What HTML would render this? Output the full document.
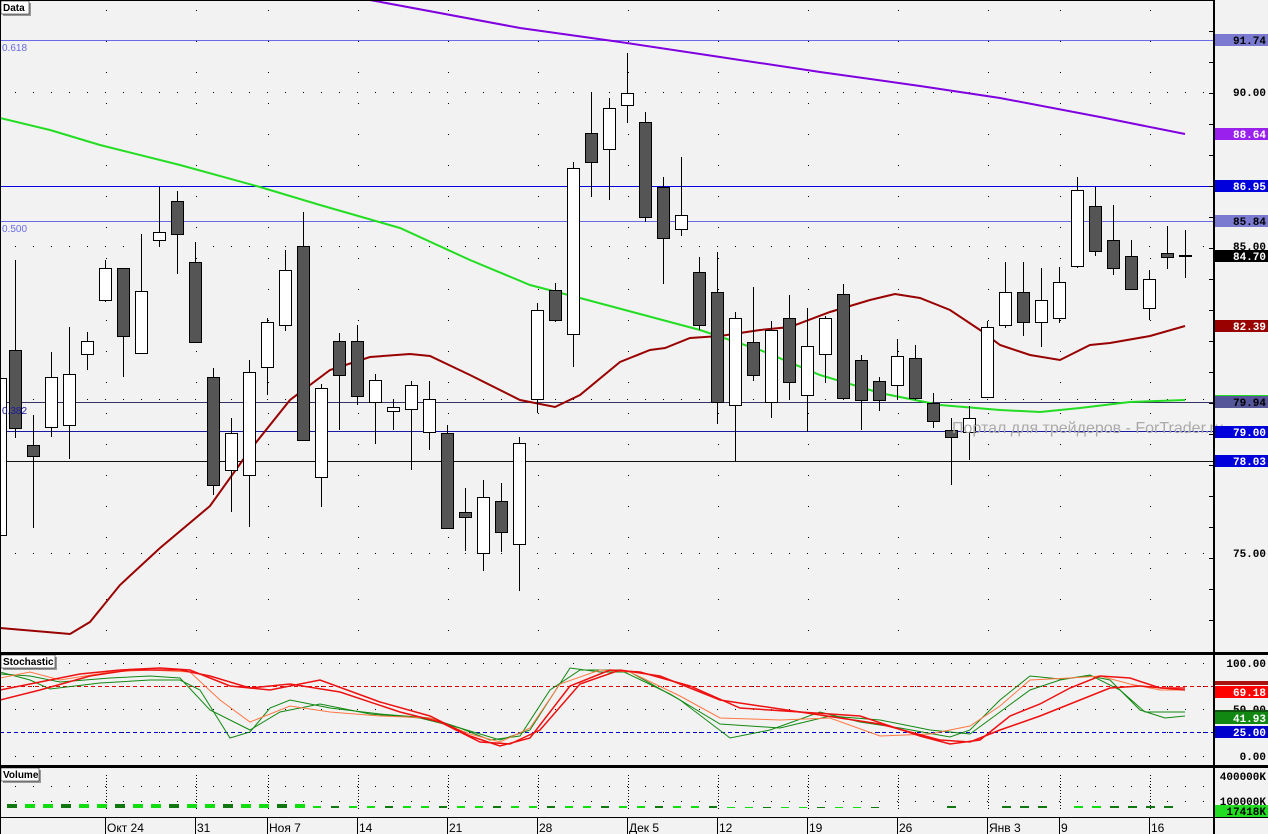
<!DOCTYPE html>
<html><head><meta charset="utf-8"><style>
html,body{margin:0;padding:0;background:#f2f2f2;width:1268px;height:834px;overflow:hidden}
svg{display:block;font-family:"Liberation Sans",sans-serif}
.lb{font-family:"Liberation Mono",monospace;font-weight:bold;font-size:11px}
</style></head><body>
<svg id="s" width="1268" height="834" xmlns="http://www.w3.org/2000/svg"></svg>
<script>
const S=document.getElementById('s');let h='';
h+='<rect width="1268" height="834" fill="#f2f2f2"/>';
let weeks=[106,196,268,358,448,538,628,718,808,898,988,1060,1150];
for(const y of [92,246,399,553]){for(let x=15;x<1213;x+=18)h+=`<rect x="${x}" y="${y}" width="1" height="1" fill="#000"/>`;}
for(const x of weeks){for(let y=10;y<650;y+=31)h+=`<rect x="${x}" y="${y}" width="1" height="1" fill="#000"/>`;}
for(const y of [663,686,709,732,756]){for(let x=15;x<1213;x+=18)h+=`<rect x="${x}" y="${y}" width="1" height="1" fill="#000"/>`;}
for(const y of [786,801]){for(let x=15;x<1213;x+=18)h+=`<rect x="${x}" y="${y}" width="1" height="1" fill="#000"/>`;}
for(const x of weeks){h+=`<line x1="${x+.5}" y1="775" x2="${x+.5}" y2="810" stroke="#000" stroke-dasharray="1,2"/>`;}
h+='<line x1="0" y1="40.5" x2="1213" y2="40.5" stroke="#6a6ae6"/>';
h+='<line x1="0" y1="186.5" x2="1213" y2="186.5" stroke="#0000dd"/>';
h+='<line x1="0" y1="221.5" x2="1213" y2="221.5" stroke="#6a6ae6"/>';
h+='<line x1="0" y1="402.5" x2="1213" y2="402.5" stroke="#333366"/>';
h+='<line x1="0" y1="431.5" x2="1213" y2="431.5" stroke="#1a1aa0"/>';
h+='<line x1="0" y1="461.5" x2="1213" y2="461.5" stroke="#111"/>';
h+='<text x="2" y="51" font-size="10" fill="#6a6ae6">0.618</text><text x="2" y="232" font-size="10" fill="#6a6ae6">0.500</text>';
const pl=(p,c,w)=>{h+=`<polyline fill="none" stroke="${c}" stroke-width="${w}" points="${p}"/>`};
pl('370,0 520,28 620,42 720,57 820,72 920,86 1000,98 1100,117 1185,134','#8000e0',2);
pl('0,118 50,130 100,145 180,165 260,187 320,205 400,228 470,260 530,285 580,298 640,314 700,330 760,350 820,375 880,393 940,405 1000,410 1040,412 1080,408 1130,402 1185,400','#22dd22',2);
pl('0,628 70,634 90,622 120,585 160,548 210,506 250,450 290,400 330,370 370,357 410,354 430,356 470,375 520,400 555,407 580,395 620,362 650,350 665,348 690,338 720,336 760,330 790,327 830,312 870,300 895,294 920,298 950,310 980,330 1000,345 1030,355 1060,360 1090,345 1110,343 1150,336 1185,326','#990000',2);
const C=[[0,370,540,378,535,0],[15,260,438,350,428,1],[33,415,528,445,456,1],[51,352,437,377,427,0],[69,327,459,374,425,0],[87,332,370,341,354,0],[105,260,302,268,300,0],[123,268,377,268,336,1],[141,234,353,291,353,0],[159,187,246,232,240,0],[177,191,274,201,234,1],[195,242,343,262,342,1],[213,368,495,377,485,1],[231,418,512,433,470,0],[249,360,527,372,475,0],[267,318,395,322,367,0],[285,250,331,270,325,0],[303,212,440,246,440,1],[321,384,507,388,477,0],[339,333,430,341,375,1],[357,325,405,341,396,1],[375,374,444,380,402,0],[393,400,430,407,411,0],[411,381,470,385,409,0],[429,381,450,399,432,0],[447,425,528,433,528,1],[465,488,551,512,517,1],[483,480,571,497,553,0],[501,483,552,501,532,1],[519,437,591,443,544,0],[537,303,413,310,399,0],[555,283,322,290,320,1],[573,162,367,168,334,0],[591,93,197,133,162,1],[609,98,200,108,149,0],[627,53,123,93,105,0],[645,112,222,122,217,1],[663,177,284,187,238,1],[681,157,236,215,229,0],[699,257,330,272,325,1],[717,252,424,292,402,1],[735,312,461,318,405,0],[753,287,381,342,375,1],[771,321,418,330,402,0],[789,295,400,318,382,1],[807,308,432,346,395,0],[825,316,383,318,354,0],[843,284,400,294,398,1],[861,355,430,360,400,1],[879,377,411,381,400,1],[897,339,400,356,385,0],[915,345,400,358,398,1],[933,393,428,403,421,1],[951,418,485,430,437,1],[969,406,460,418,432,0],[987,321,398,327,397,0],[1005,262,328,292,325,0],[1023,262,336,292,322,1],[1041,268,347,300,322,0],[1059,267,323,282,318,0],[1077,177,268,190,266,0],[1095,187,256,206,251,1],[1113,205,275,240,268,1],[1131,240,290,256,289,1],[1149,270,320,279,308,0],[1167,226,269,253,257,1],[1185,230,278,255,256,1]];
for(const [x,hi,lo,t,b,d] of C){h+=`<line x1="${x+.5}" y1="${hi}" x2="${x+.5}" y2="${lo}" stroke="#000"/>`;h+=`<rect x="${x-5.5}" y="${t+.5}" width="12" height="${Math.max(1,b-t)}" fill="${d?'#555':'#fff'}" stroke="#000"/>`;}
h+='<text x="2" y="414" font-size="10" fill="#1a1aa0">0.382</text>';
h+='<text x="952" y="433" font-size="16" fill="#aaa">Портал для трейдеров - ForTrader.ru</text>';
h+='<line x1="0" y1="686.5" x2="1213" y2="686.5" stroke="#e00000" stroke-dasharray="4,3"/>';
h+='<line x1="0" y1="732.5" x2="1213" y2="732.5" stroke="#0000cc" stroke-dasharray="4,3"/>';
pl('0,672 30,680 50,689 100,683 150,680 180,680 200,690 230,738 250,732 270,708 290,700 330,708 380,714 430,718 460,728 500,740 530,730 570,668 600,672 630,672 680,700 730,738 770,730 820,712 860,722 900,728 950,737 970,730 1000,700 1030,676 1060,679 1090,676 1110,680 1140,710 1165,718 1185,716','#118811',1);
pl('0,674 30,676 60,682 110,678 150,676 180,678 210,710 250,730 280,712 320,704 370,714 420,718 460,728 490,740 520,736 550,690 580,670 620,670 670,694 720,724 780,728 830,716 880,720 930,730 970,734 1000,712 1030,690 1060,680 1090,675 1120,690 1145,712 1185,712','#118811',1);
pl('0,678 30,672 60,680 110,672 150,670 190,672 220,700 250,722 290,706 330,712 380,716 430,718 470,734 500,742 530,728 560,684 600,670 630,672 680,696 720,718 780,720 830,718 880,736 930,734 970,726 1000,706 1030,680 1070,678 1100,676 1130,684 1160,690 1185,690','#ff7744',1);
pl('0,690 40,682 80,674 120,670 160,668 190,670 230,686 270,690 320,680 380,702 430,716 470,736 500,746 530,738 570,686 610,670 640,672 690,686 740,708 800,712 860,716 920,736 950,744 980,740 1010,716 1040,704 1070,688 1100,676 1130,678 1160,688 1185,688','#ee1111',1.5);
pl('0,700 40,690 90,676 130,670 180,670 210,676 250,688 290,684 340,692 400,712 440,722 480,742 510,744 540,730 580,684 620,670 660,676 720,700 800,712 880,724 940,740 970,742 1000,730 1040,716 1080,700 1110,688 1140,686 1185,690','#ee1111',1.5);
h+='<rect x="0" y="0" width="1213" height="1" fill="#000"/>';
h+='<rect x="0" y="652" width="1268" height="3" fill="#000"/><rect x="0" y="765" width="1268" height="3" fill="#000"/><rect x="0" y="817" width="1268" height="1" fill="#000"/>';
h+='<rect x="1213" y="0" width="2" height="834" fill="#000"/><rect x="0" y="0" width="1" height="834" fill="#000"/>';
for(let i=0;i<50;i++){let x=7+i*18;if(x>880)break;let c=i%3==0?'#117711':'#11dd11';let t=i<17?4:(i<40?2:1);h+=`<rect x="${x}" y="${808-t}" width="${i<17?10:8}" height="${t}" fill="${c}"/>`;}
for(const x of [947,1002,1020,1038,1074,1092,1110,1128,1146,1164]){h+=`<rect x="${x}" y="806" width="9" height="2" fill="${x>1070&&x<1100?'#11dd11':'#117711'}"/>`}
const lab=(x,y,w,t)=>{h+=`<rect x="${x+2}" y="${y+2}" width="${w}" height="13" fill="#999"/><rect x="${x}" y="${y}" width="${w}" height="13" fill="#fff" stroke="#000" stroke-width=".5"/><text x="${x+2}" y="${y+10}" font-size="10" font-weight="bold">${t}</text>`};
lab(1,1,28,'Data');lab(1,655,54,'Stochastic');lab(1,768,38,'Volume');
for(let y=31;y<650;y+=31)h+=`<rect x="1209" y="${y}" width="4" height="1" fill="#000"/>`;
const pb=(y,t,bg,fg)=>{h+=`<rect x="1215" y="${y-6}" width="53" height="12" fill="${bg}"/><text x="1266" y="${y+4}" text-anchor="end" class="lb" fill="${fg}">${t}</text>`};
pb(40,'91.74','#7a7ad0','#000');pb(92,'90.00','none','#000');pb(134,'88.64','#9a20ee','#fff');pb(186,'86.95','#0000dd','#fff');pb(221,'85.84','#7a7ad0','#000');pb(246,'85.00','none','#000');pb(256,'84.70','#000','#fff');pb(326,'82.39','#990000','#fff');
h+='<rect x="1215" y="395" width="53" height="3" fill="#22dd22"/>';pb(402,'79.94','#555599','#000');pb(432,'79.00','#0000dd','#fff');pb(461,'78.03','#0000dd','#fff');pb(553,'75.00','none','#000');
pb(663,'100.00','none','#000');h+='<rect x="1215" y="681" width="53" height="4" fill="#aa1111"/>';pb(692,'69.18','#ff0000','#fff');pb(709,'50.00','none','#000');h+='<rect x="1215" y="710" width="53" height="3" fill="#115511"/>';pb(718,'41.93','#118811','#fff');pb(732,'25.00','#0000cc','#fff');pb(756,'0.00','none','#000');
pb(776,'400000K','none','#000');pb(801,'100000K','none','#000');pb(811,'17418K','#22dd22','#000');
const D=[[106,'Окт 24'],[196,'31'],[268,'Ноя 7'],[358,'14'],[448,'21'],[538,'28'],[628,'Дек 5'],[718,'12'],[808,'19'],[898,'26'],[988,'Янв 3'],[1060,'9'],[1150,'16']];
for(const [x,t] of D){h+=`<rect x="${x-1}" y="818" width="1" height="16" fill="#000"/><text x="${x+1}" y="832" font-size="12">${t}</text>`;}
S.innerHTML=h;
</script>
</body></html>
